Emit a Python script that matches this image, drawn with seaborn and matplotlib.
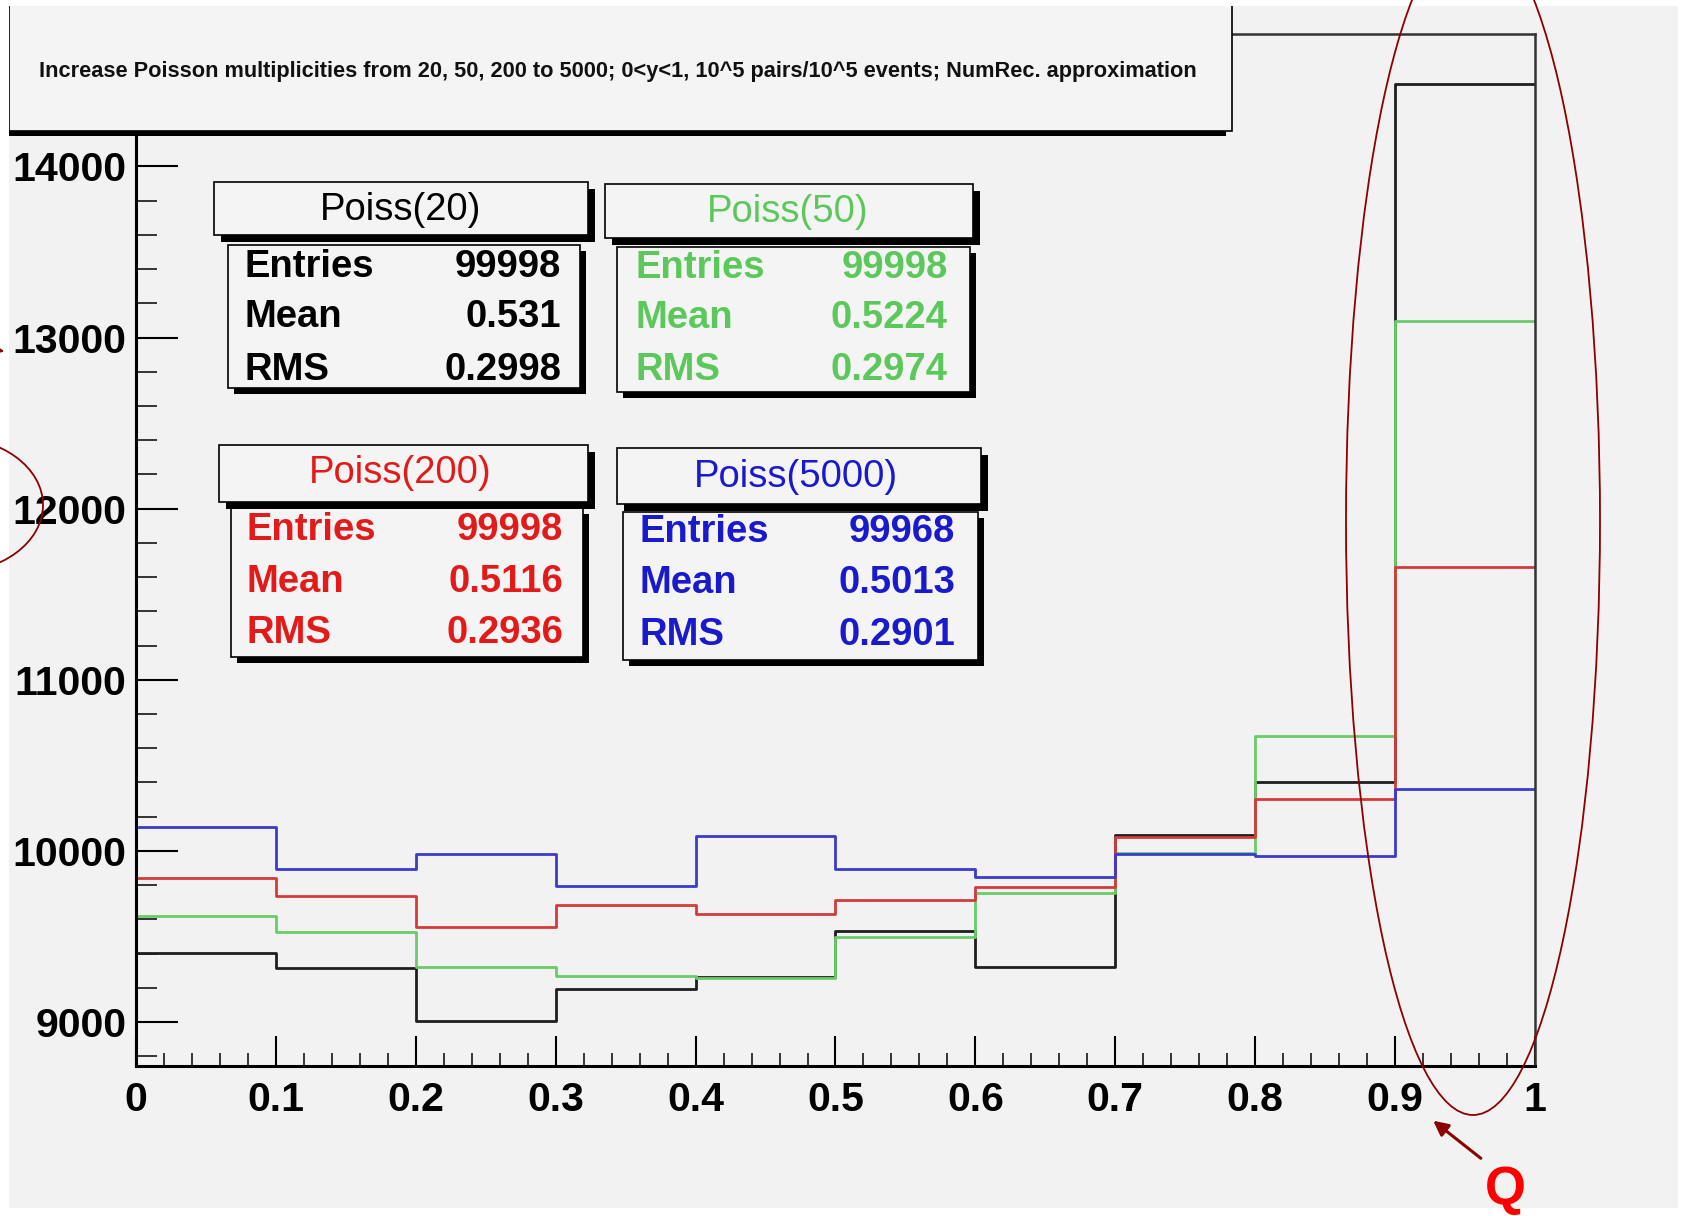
import numpy as np
import pandas as pd
import matplotlib
matplotlib.use("Agg")
import matplotlib.pyplot as plt
import matplotlib.transforms as mtransforms
from matplotlib.patches import Rectangle, Ellipse, FancyArrowPatch
from matplotlib.ticker import MultipleLocator
import seaborn as sns

# ---- data -------------------------------------------------------------
bin_edges = [0.0, 0.1, 0.2, 0.3, 0.4, 0.5, 0.6, 0.7, 0.8, 0.9, 1.0]

counts_poiss20 = [9405, 9315, 9004, 9195, 9265, 9529, 9323, 10090, 10405, 14481]
counts_poiss50 = [9619, 9527, 9319, 9267, 9257, 9494, 9756, 9990, 10672, 13094]
counts_poiss200 = [9844, 9739, 9554, 9685, 9630, 9715, 9791, 10080, 10302, 11657]
counts_poiss5000 = [10140, 9895, 9984, 9792, 10089, 9895, 9848, 9984, 9971, 10364]

series_names = ["Poiss(20)", "Poiss(50)", "Poiss(200)", "Poiss(5000)"]
stat_entries = ["99998", "99998", "99998", "99968"]
stat_means = ["0.531", "0.5224", "0.5116", "0.5013"]
stat_rms = ["0.2998", "0.2974", "0.2936", "0.2901"]

x_tick_values = [0, 0.1, 0.2, 0.3, 0.4, 0.5, 0.6, 0.7, 0.8, 0.9, 1.0]
x_tick_labels = ["0", "0.1", "0.2", "0.3", "0.4", "0.5", "0.6", "0.7", "0.8", "0.9", "1"]
y_tick_values = [9000, 10000, 11000, 12000, 13000, 14000]
y_tick_labels = ["9000", "10000", "11000", "12000", "13000", "14000"]

title_text = ("Increase Poisson multiplicities from 20, 50, 200 to 5000; 0<y<1, "
              "10^5 pairs/10^5 events; NumRec. approximation")
marker_text = "Q"

# ---- style ------------------------------------------------------------
sns.set_style("ticks")
plt.rcParams["font.family"] = ["Liberation Sans", "DejaVu Sans"]

line_colors = ["#1e1e1e", "#6acb6a", "#d43a3a", "#3a3acf"]
text_colors = ["#000000", "#5cc85c", "#e31a1a", "#1a1acd"]
annot_color = "#8b0000"
canvas_gray = "#f2f2f2"

W, H = 1683, 1216
fig = plt.figure(figsize=(W / 100, H / 100), dpi=100, facecolor="white")
# pixel coordinates measured from the top-left corner of the canvas
px = mtransforms.Affine2D().scale(1 / W, -1 / H).translate(0, 1) + fig.transFigure

fig.add_artist(Rectangle((9, 6), 1678 - 9, 1208 - 6, transform=px,
                         facecolor=canvas_gray, edgecolor="none", zorder=-10))

ax_top, ax_bottom = 34.3, 1066.0
ax = fig.add_axes([136 / W, 1 - ax_bottom / H, (1535 - 136) / W, (ax_bottom - ax_top) / H])
ax.set_facecolor("none")

bin_centers = [(a + b) / 2 for a, b in zip(bin_edges[:-1], bin_edges[1:])]
all_counts = [counts_poiss20, counts_poiss50, counts_poiss200, counts_poiss5000]
frames = [pd.DataFrame({"y": bin_centers, "count": c, "series": n})
          for n, c in zip(series_names, all_counts)]
hist_df = pd.concat(frames, ignore_index=True)

for name, color in zip(series_names, line_colors):
    sub = hist_df[hist_df["series"] == name]
    sns.histplot(data=sub, x="y", weights="count", bins=bin_edges,
                 element="step", fill=False, color=color, linewidth=2.0, ax=ax)

ax.set_xlim(0, 1)
ax.set_ylim(8743, 14772)
ax.set_xlabel("")
ax.set_ylabel("")

ax.set_xticks(x_tick_values, labels=x_tick_labels)
ax.set_yticks(y_tick_values, labels=y_tick_labels)
ax.xaxis.set_minor_locator(MultipleLocator(0.02))
ax.yaxis.set_minor_locator(MultipleLocator(200))
ax.tick_params(axis="x", which="major", direction="in", length=21.6, width=1.5,
               pad=11, labelsize=29.5, colors="black")
ax.tick_params(axis="x", which="minor", direction="in", length=9.4, width=1.3)
ax.tick_params(axis="y", which="major", direction="in", length=30, width=1.5,
               pad=7, labelsize=29.5, colors="black")
ax.tick_params(axis="y", which="minor", direction="in", length=15, width=1.3)
for lbl in ax.get_xticklabels() + ax.get_yticklabels():
    lbl.set_fontweight("bold")

for side in ["left", "bottom"]:
    ax.spines[side].set_linewidth(2.2)
    ax.spines[side].set_color("black")
for side in ["top", "right"]:
    ax.spines[side].set_visible(True)
    ax.spines[side].set_linewidth(1.8)
    ax.spines[side].set_color("#333333")

# ---- title pave -------------------------------------------------------
fig.add_artist(Rectangle((9, -10), 1232 - 9, 141, transform=px,
                         facecolor="#f4f4f4", edgecolor="black", linewidth=1.2, zorder=10))
fig.add_artist(Rectangle((9, 131), 1226 - 9, 5, transform=px,
                         facecolor="black", edgecolor="none", zorder=10))
title = fig.text(618 / W, 1 - 71.7 / H, title_text, ha="center", va="center",
                 fontsize=15, fontweight="bold", color="#111111", zorder=12)
fig.canvas.draw()
tw = title.get_window_extent().width
title.set_fontsize(15 * 1164 / tw)

# ---- statistics paves -------------------------------------------------
paves = [
    # title box, stats box, label x, value right x, row ys, title centre
    ((214, 182, 588, 235), (228, 245, 580, 388), 245, 561, (267, 317, 370), (401, 210)),
    ((605, 184, 973, 238), (617, 247, 970, 392), 636, 948, (268, 318, 370), (788, 212)),
    ((219, 445, 588, 502), (231, 508, 583, 657), 247, 563, (530, 582, 633), (400, 473)),
    ((617, 448, 981, 504), (623, 512, 978, 660), 640, 955, (532, 583, 635), (796, 477)),
]


def pave(box, shadow, z):
    x0, y0, x1, y1 = box
    fig.add_artist(Rectangle((x0 + shadow, y0 + shadow), x1 - x0, y1 - y0, transform=px,
                             facecolor="black", edgecolor="none", zorder=z))
    fig.add_artist(Rectangle((x0, y0), x1 - x0, y1 - y0, transform=px,
                             facecolor="#f4f4f4", edgecolor="black", linewidth=1.2,
                             zorder=z + 0.1))


for i, (tbox, sbox, lx, vx, rows, tc) in enumerate(paves):
    pave(sbox, 6, 10 + i)
    pave(tbox, 7, 10.5 + i)
    col = text_colors[i]
    fig.text(tc[0] / W, 1 - tc[1] / H, series_names[i], ha="center", va="center",
             fontsize=27.5, color=col, zorder=11 + i)
    for lab, val, ry in zip(["Entries", "Mean", "RMS"],
                            [stat_entries[i], stat_means[i], stat_rms[i]], rows):
        fig.text(lx / W, 1 - ry / H, lab, ha="left", va="center", fontsize=27.5,
                 fontweight="bold", color=col, zorder=11 + i)
        fig.text(vx / W, 1 - ry / H, val, ha="right", va="center", fontsize=27.5,
                 fontweight="bold", color=col, zorder=11 + i)

# white page margin around the canvas
for (mx, my, mw, mh) in [(0, 0, W, 6), (0, 0, 9, H), (1678, 0, W - 1678, H),
                         (0, 1208, W, H - 1208)]:
    fig.add_artist(Rectangle((mx, my), mw, mh, transform=px, facecolor="white",
                             edgecolor="none", zorder=18))

# ---- hand-drawn highlights --------------------------------------------
fig.add_artist(Ellipse((1473, 521), 254, 1188, transform=px, facecolor="none",
                       edgecolor=annot_color, linewidth=1.3, zorder=20))
fig.add_artist(Ellipse((-50, 505), 186, 136, transform=px, facecolor="none",
                       edgecolor=annot_color, linewidth=1.3, zorder=20))
fig.add_artist(FancyArrowPatch((-40, 343), (7, 352), transform=px, arrowstyle="-|>",
                               mutation_scale=20, color=annot_color, linewidth=1.5,
                               zorder=20))
fig.add_artist(FancyArrowPatch((1483, 1160), (1431, 1119), transform=px,
                               arrowstyle="-|>", mutation_scale=22, color=annot_color,
                               linewidth=2.2, zorder=20))
fig.text(1505 / W, 1 - 1190 / H, marker_text, ha="center", va="center", fontsize=38,
         fontweight="bold", color="#ff0000", zorder=21)

fig.savefig("out.png", dpi=100, facecolor="white")
